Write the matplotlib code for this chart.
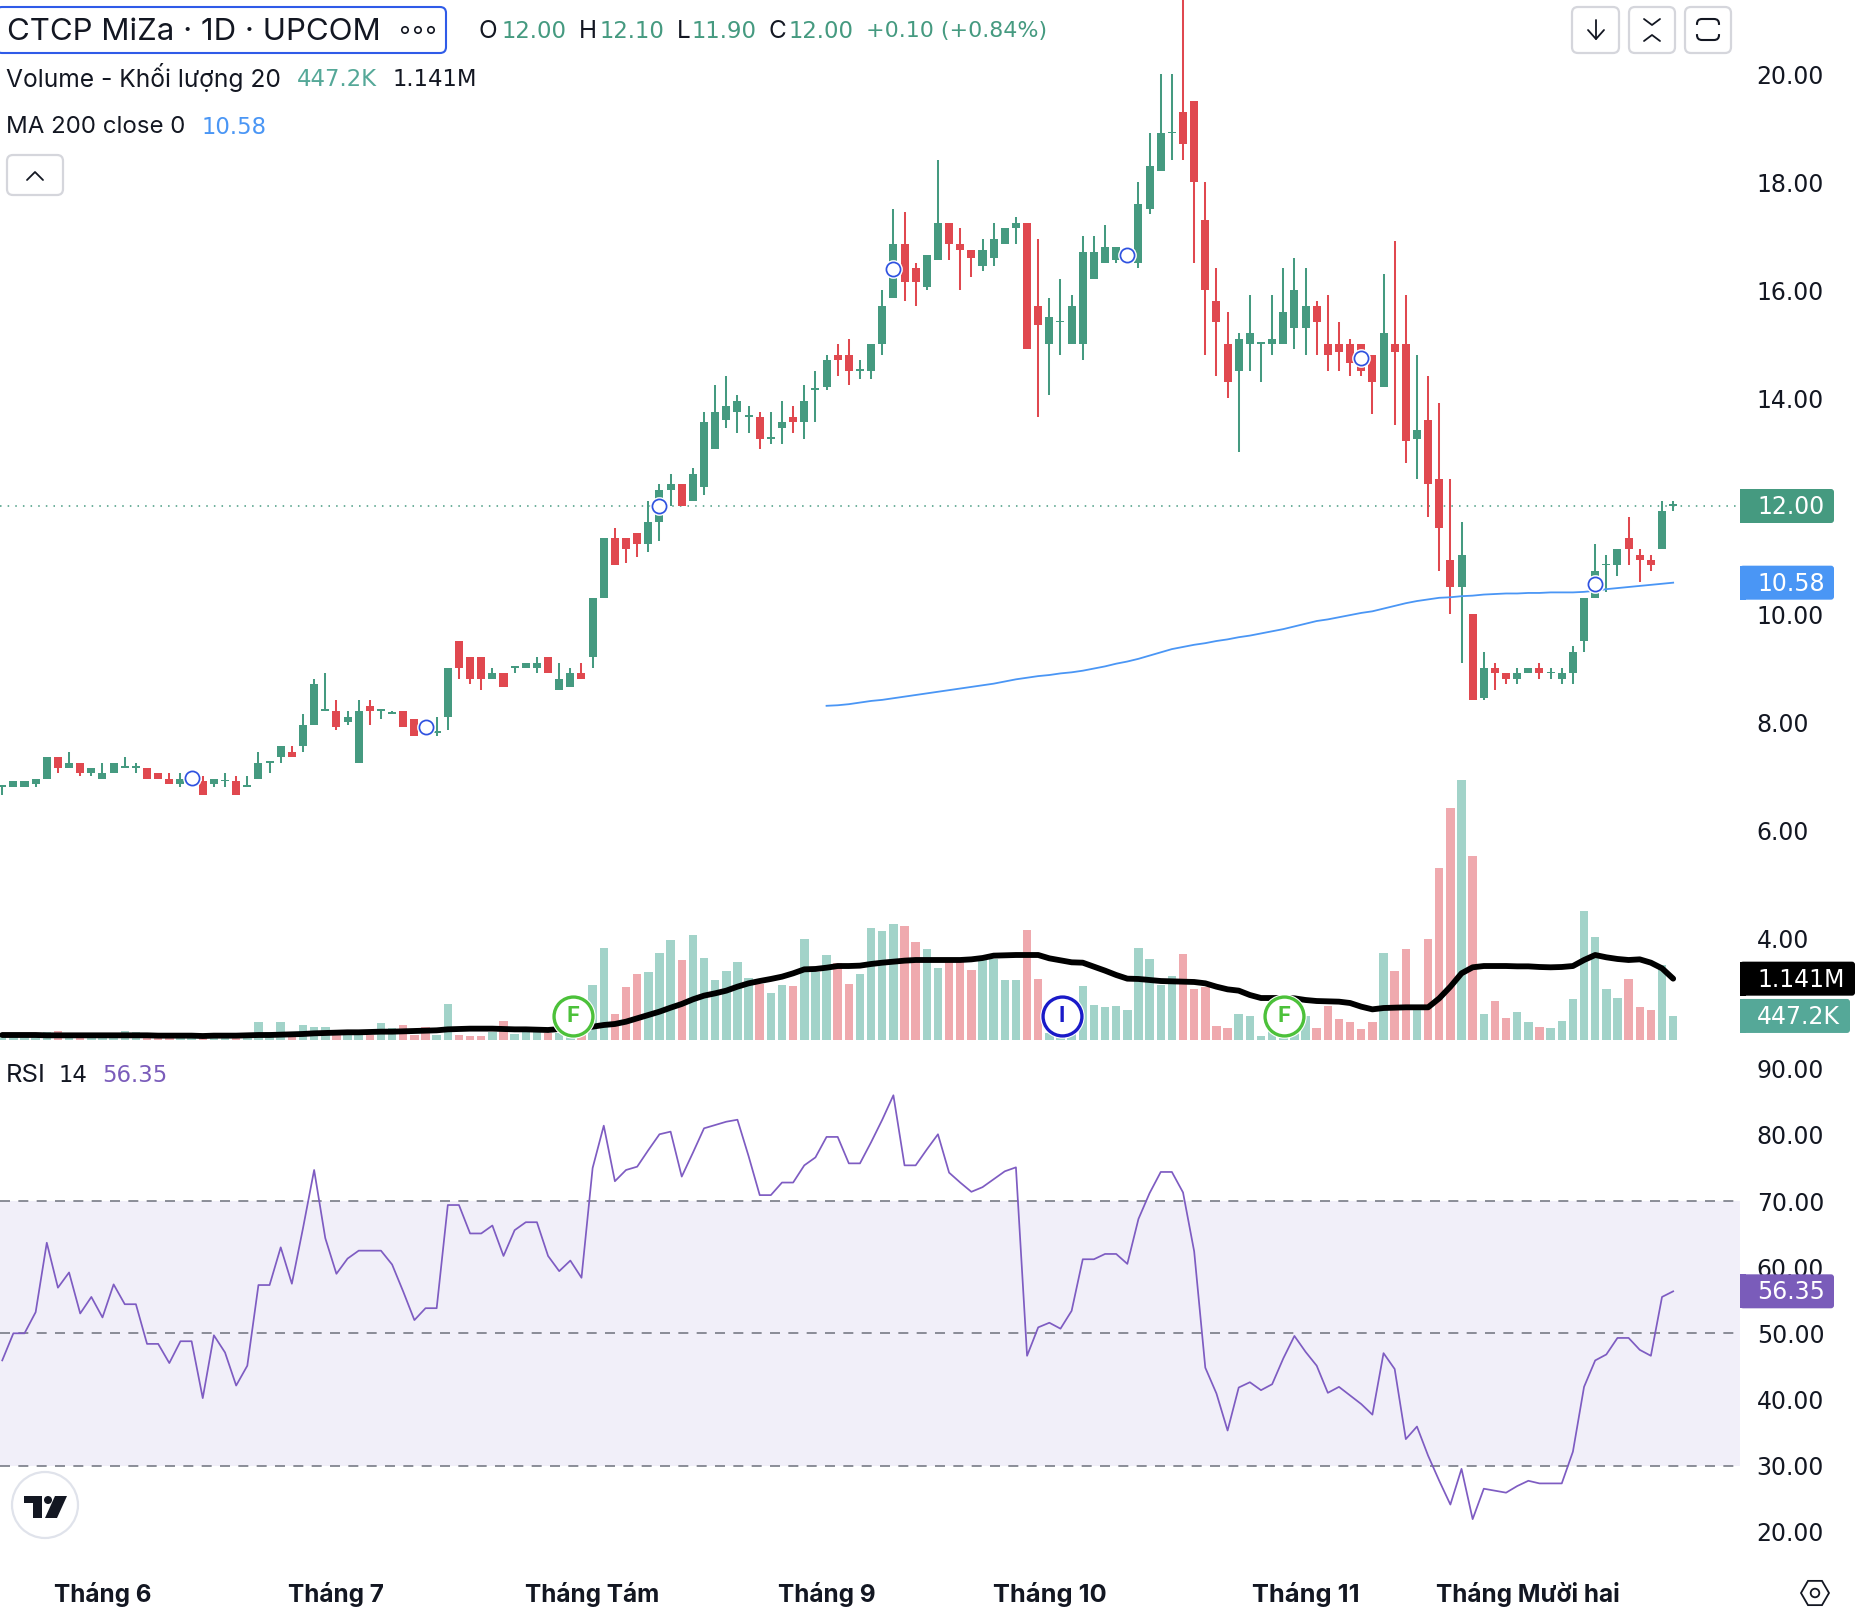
import matplotlib
matplotlib.use("Agg")
import matplotlib.pyplot as plt
from matplotlib.patches import FancyBboxPatch, Circle, Polygon, RegularPolygon

plt.rcParams['font.family'] = ['Inter', 'DejaVu Sans']

W, H = 1876, 1612

# candles
opens = [6.8, 6.8, 6.8, 6.85, 6.95, 7.35, 7.15, 7.25, 7.05, 6.95,
         7.05, 7.15, 7.15, 7.15, 7.05, 6.95, 6.85, 6.9, 6.9, 6.85,
         6.9, 6.9, 6.8, 6.95, 7.25, 7.35, 7.45, 7.55, 7.95, 8.2,
         8.2, 8.0, 7.25, 8.3, 8.2, 8.15, 8.2, 8.05, 8.0, 7.8,
         8.1, 9.5, 9.2, 9.2, 8.8, 8.9, 9.0, 9.0, 9.0, 9.2,
         8.6, 8.65, 8.9, 9.2, 10.3, 11.4, 11.4, 11.5, 11.3, 11.7,
         12.3, 12.4, 12.1, 12.35, 13.05, 13.6, 13.75, 13.65, 13.65, 13.25,
         13.45, 13.65, 13.55, 14.15, 14.2, 14.8, 14.8, 14.5, 14.5, 15.0,
         15.85, 16.85, 16.4, 16.05, 16.55, 17.25, 16.85, 16.75, 16.45, 16.6,
         16.85, 17.15, 17.25, 15.7, 15.0, 15.4, 15.0, 15.0, 16.2, 16.5,
         16.55, 16.6, 16.5, 17.5, 18.2, 18.9, 19.3, 19.5, 17.3, 15.8,
         15.0, 14.5, 15.0, 15.0, 15.0, 15.0, 15.3, 15.3, 15.7, 15.0,
         15.0, 15.0, 15.0, 14.8, 14.2, 15.0, 15.0, 13.25, 13.6, 12.5,
         11.0, 10.5, 10.0, 8.45, 9.0, 8.9, 8.8, 8.9, 9.0, 8.9,
         8.8, 8.9, 9.5, 10.3, 10.9, 10.9, 11.4, 11.1, 11.0, 11.2,
         12.0]
highs = [6.8, 6.9, 6.9, 6.95, 7.35, 7.35, 7.45, 7.25, 7.15, 7.25,
         7.25, 7.35, 7.25, 7.15, 7.05, 7.05, 7.05, 7.0, 7.0, 6.95,
         7.05, 7.0, 7.0, 7.45, 7.25, 7.55, 7.55, 8.15, 8.8, 8.9,
         8.4, 8.2, 8.4, 8.4, 8.2, 8.2, 8.2, 8.05, 8.0, 8.1,
         9.0, 9.5, 9.2, 9.2, 9.0, 8.9, 9.0, 9.1, 9.2, 9.2,
         9.1, 9.0, 9.1, 10.3, 11.4, 11.6, 11.4, 11.5, 12.1, 12.4,
         12.6, 12.4, 12.7, 13.75, 14.25, 14.4, 14.05, 13.85, 13.75, 13.75,
         13.95, 13.85, 14.25, 14.5, 14.8, 15.0, 15.1, 14.7, 15.0, 16.0,
         17.5, 17.45, 16.5, 16.65, 18.4, 17.25, 17.15, 16.75, 16.95, 17.25,
         17.15, 17.35, 17.25, 16.95, 15.85, 16.2, 15.9, 17.0, 17.0, 17.2,
         16.8, 16.7, 18.0, 18.9, 20.0, 20.0, 21.4, 19.5, 18.0, 16.4,
         15.6, 15.2, 15.9, 15.0, 15.9, 16.4, 16.6, 16.4, 15.8, 15.9,
         15.4, 15.1, 15.0, 14.8, 16.3, 16.9, 15.9, 14.8, 14.4, 13.9,
         12.5, 11.7, 10.0, 9.3, 9.1, 8.9, 9.0, 9.0, 9.1, 9.0,
         9.0, 9.4, 10.3, 11.3, 11.1, 11.2, 11.8, 11.2, 11.1, 12.1,
         12.1]
lows = [6.65, 6.8, 6.8, 6.8, 6.95, 7.05, 7.15, 7.0, 7.0, 6.95,
        7.05, 7.15, 7.05, 6.95, 6.95, 6.85, 6.8, 6.85, 6.65, 6.8,
        6.8, 6.65, 6.8, 6.95, 7.05, 7.25, 7.35, 7.45, 7.95, 8.2,
        7.85, 7.95, 7.25, 7.95, 8.05, 8.15, 7.9, 7.75, 7.85, 7.75,
        7.85, 8.8, 8.7, 8.6, 8.8, 8.65, 8.9, 9.0, 8.9, 8.9,
        8.6, 8.65, 8.8, 9.0, 10.3, 10.9, 10.95, 11.05, 11.15, 11.35,
        12.0, 12.0, 12.1, 12.2, 13.05, 13.45, 13.35, 13.35, 13.05, 13.15,
        13.15, 13.35, 13.25, 13.55, 14.15, 14.4, 14.25, 14.35, 14.35, 14.8,
        15.85, 15.8, 15.7, 16.0, 16.55, 16.55, 16.0, 16.25, 16.35, 16.45,
        16.85, 16.85, 14.9, 13.65, 14.05, 14.8, 15.0, 14.7, 16.2, 16.5,
        16.5, 16.6, 16.4, 17.4, 18.2, 18.4, 18.4, 16.5, 14.8, 14.4,
        14.0, 13.0, 14.5, 14.3, 14.8, 15.0, 14.9, 14.8, 14.8, 14.5,
        14.5, 14.4, 14.4, 13.7, 14.2, 13.5, 12.8, 12.5, 11.8, 10.8,
        10.0, 9.1, 8.4, 8.4, 8.6, 8.7, 8.7, 8.9, 8.8, 8.8,
        8.7, 8.7, 9.3, 10.3, 10.4, 10.7, 10.9, 10.6, 10.8, 11.2,
        11.9]
closes = [6.8, 6.9, 6.9, 6.95, 7.35, 7.15, 7.25, 7.05, 7.15, 7.05,
          7.25, 7.15, 7.15, 6.95, 6.95, 6.85, 6.95, 7.0, 6.65, 6.95,
          6.9, 6.65, 6.8, 7.25, 7.25, 7.55, 7.35, 7.95, 8.7, 8.2,
          7.9, 8.1, 8.2, 8.2, 8.2, 8.15, 7.9, 7.75, 7.9, 7.8,
          9.0, 9.0, 8.8, 8.8, 8.9, 8.65, 9.0, 9.1, 9.1, 8.9,
          8.8, 8.9, 8.8, 10.3, 11.4, 10.9, 11.2, 11.3, 11.7, 12.3,
          12.4, 12.0, 12.6, 13.55, 13.75, 13.85, 13.95, 13.65, 13.25, 13.25,
          13.55, 13.55, 13.95, 14.15, 14.7, 14.7, 14.5, 14.5, 15.0, 15.7,
          16.85, 16.15, 16.15, 16.65, 17.25, 16.85, 16.75, 16.6, 16.75, 16.95,
          17.15, 17.25, 14.9, 15.35, 15.5, 15.4, 15.7, 16.7, 16.7, 16.8,
          16.8, 16.7, 17.6, 18.3, 18.9, 18.9, 18.7, 18.0, 16.0, 15.4,
          14.3, 15.1, 15.2, 15.0, 15.1, 15.6, 16.0, 15.7, 15.4, 14.8,
          14.85, 14.65, 14.5, 14.3, 15.2, 14.85, 13.2, 13.4, 12.4, 11.6,
          10.5, 11.1, 8.4, 9.0, 8.9, 8.8, 8.9, 9.0, 8.9, 8.9,
          8.9, 9.3, 10.3, 10.8, 10.9, 11.2, 11.2, 11.0, 10.9, 11.9,
          12.0]

# volume in thousands of shares
volumes = [124, 124, 112, 136, 155, 167, 124, 93, 112, 93,
           112, 167, 155, 93, 112, 93, 124, 93, 74, 93,
           112, 93, 124, 335, 155, 335, 93, 279, 242, 242,
           93, 93, 155, 93, 316, 217, 279, 93, 242, 93,
           670, 93, 74, 74, 155, 353, 112, 155, 155, 124,
           124, 62, 124, 1023, 1711, 484, 986, 1228, 1265, 1618,
           1860, 1488, 1953, 1525, 1116, 1283, 1451, 1153, 1042, 874,
           1023, 1004, 1879, 1265, 1581, 1432, 1042, 1228, 2083, 2027,
           2158, 2120, 1823, 1693, 1339, 1451, 1469, 1302, 1488, 1507,
           1116, 1116, 2046, 1135, 124, 160, 124, 1004, 651, 614,
           632, 558, 1711, 1507, 1029, 1190, 1600, 949, 992, 260,
           223, 484, 446, 74, 186, 124, 186, 446, 223, 632,
           391, 335, 205, 335, 1618, 1283, 1693, 620, 1879, 3199,
           4315, 4836, 3422, 484, 725, 409, 521, 335, 242, 223,
           353, 763, 2399, 1916, 949, 781, 1135, 614, 558, 1395,
           447.2]
volume_ma = [93, 93, 93, 93, 87, 87, 87, 87, 87, 87,
             87, 87, 87, 87, 81, 81, 81, 81, 74, 81,
             81, 81, 87, 93, 93, 99, 105, 112, 124, 130,
             136, 143, 143, 149, 155, 155, 161, 167, 174, 180,
             198, 205, 211, 211, 211, 205, 198, 198, 192, 186,
             205, 217, 236, 248, 279, 298, 341, 403, 465, 527,
             601, 670, 756, 825, 868, 918, 992, 1054, 1097, 1135,
             1178, 1240, 1314, 1321, 1345, 1376, 1376, 1383, 1414, 1438,
             1457, 1476, 1488, 1488, 1488, 1488, 1488, 1500, 1525, 1569,
             1575, 1581, 1581, 1581, 1519, 1482, 1445, 1438, 1364, 1290,
             1209, 1141, 1135, 1116, 1097, 1091, 1085, 1079, 1054, 992,
             942, 918, 837, 781, 781, 781, 775, 744, 725, 719,
             713, 688, 620, 570, 595, 601, 608, 608, 608, 775,
             992, 1240, 1352, 1376, 1376, 1376, 1370, 1370, 1358, 1352,
             1358, 1376, 1488, 1581, 1538, 1507, 1488, 1500, 1438, 1333,
             1141]

ma_start = 74
ma200 = [8.30, 8.31, 8.33, 8.36, 8.39, 8.41, 8.44, 8.47, 8.50, 8.53,
         8.56, 8.59, 8.62, 8.65, 8.68, 8.71, 8.75, 8.79, 8.82, 8.85,
         8.87, 8.90, 8.92, 8.95, 8.99, 9.03, 9.08, 9.12, 9.17, 9.23,
         9.29, 9.35, 9.39, 9.43, 9.46, 9.50, 9.53, 9.57, 9.60, 9.64,
         9.68, 9.72, 9.77, 9.82, 9.87, 9.90, 9.94, 9.98, 10.02, 10.05,
         10.10, 10.15, 10.20, 10.24, 10.27, 10.30, 10.31, 10.33, 10.34, 10.36,
         10.37, 10.38, 10.38, 10.39, 10.39, 10.40, 10.40, 10.40, 10.41, 10.43,
         10.46, 10.48, 10.50, 10.52, 10.54, 10.56, 10.58]

rsi = [45.9, 50, 50, 53.2, 63.7, 56.9, 59.2, 53, 55.5, 52.4,
       57.4, 54.4, 54.4, 48.4, 48.4, 45.5, 48.8, 48.8, 40.2, 49.7,
       47.1, 42.1, 45.1, 57.3, 57.3, 63, 57.5, 65.9, 74.7, 64.4,
       59, 61.3, 62.5, 62.5, 62.5, 60.4, 56.3, 52, 53.8, 53.8,
       69.4, 69.4, 65.1, 65.1, 66.3, 61.7, 65.6, 66.8, 66.8, 61.7,
       59.4, 61, 58.4, 75, 81.4, 73, 74.7, 75.2, 77.7, 80.1,
       80.5, 73.7, 77.3, 81, 81.5, 82, 82.3, 76.8, 70.9, 70.9,
       72.8, 72.8, 75.4, 76.6, 79.7, 79.7, 75.7, 75.7, 78.9, 82.3,
       86, 75.4, 75.4, 77.8, 80.1, 74.3, 72.8, 71.4, 72.1, 73.3,
       74.5, 75.1, 46.6, 50.9, 51.6, 50.7, 53.4, 61.2, 61.2, 62,
       62, 60.5, 67.3, 71.2, 74.4, 74.4, 71.3, 62.4, 44.8, 40.9,
       35.3, 41.8, 42.6, 41.4, 42.3, 46.2, 49.6, 47.2, 45.1, 41,
       41.9, 40.6, 39.3, 37.7, 47, 44.6, 34, 35.9, 31.5, 27.7,
       24.1, 29.5, 21.9, 26.5, 26.2, 25.9, 26.9, 27.7, 27.3, 27.3,
       27.3, 32.1, 41.9, 45.9, 46.8, 49.3, 49.3, 47.5, 46.6, 55.5,
       56.35]

news_idx = [17, 38, 59, 80, 101, 122, 143]
news_price = [6.97, 7.9, 12.0, 16.38, 16.65, 14.74, 10.55]
flag_idx = [51.2, 95.1, 115.1]
flag_text = ["F", "I", "F"]
flag_color = ["#4cc13a", "#1a1ac8", "#4cc13a"]

month_idx = [9, 30, 53, 74, 94, 117, 137]
month_names = ["Tháng 6", "Tháng 7", "Tháng Tám", "Tháng 9", "Tháng 10", "Tháng 11", "Tháng Mười hai"]
price_ticks = [4, 6, 8, 10, 12, 14, 16, 18, 20]
rsi_ticks = [20, 30, 40, 50, 60, 70, 80, 90]

GREEN = "#459a80"
RED = "#e0484f"
VOL_GREEN = "#a2d3c9"
VOL_RED = "#efa9ae"
TEAL = "#55a898"
BLUE = "#4a96f5"
PURPLE = "#7a5cba"
INK = "#131722"
NUM_FONT = "DejaVu Sans"  # tabular digits, same widths as the chart's numbers
FS = 16.4
AXIS_FS = 17


def pane(top, bottom):
    return fig.add_axes([0, 1 - bottom / H, 1740 / W, (bottom - top) / H])


def clean(ax):
    ax.patch.set_alpha(0)
    for s in ax.spines.values():
        s.set_visible(False)
    ax.set_xlim(-0.2, 156.0)


fig = plt.figure(figsize=(W / 100, H / 100), dpi=100, facecolor="white")

# volume sits behind the price candles in the same pane
ax_vol = pane(0, 1040)
ax_vol.set_zorder(1)
clean(ax_vol)
ax_vol.set_ylim(0, 1040 * 18.6)
ax_vol.set_xticks([])
ax_vol.set_yticks([])
xs = list(range(len(closes)))
up = [c >= o for o, c in zip(opens, closes)]
ax_vol.bar(xs, volumes, width=0.76, color=[VOL_GREEN if u else VOL_RED for u in up], linewidth=0)
ax_vol.plot(xs, volume_ma, color="black", lw=4.2, solid_capstyle="round", solid_joinstyle="round")

ax = pane(0, 1040)
ax.set_zorder(2)
clean(ax)
ax.set_ylim(12 - (1040 - 506) / 54.0, 12 + 506 / 54.0)
ax.axhline(12, color=GREEN, lw=1.1, ls=(0, (1, 4)), zorder=1)
colors = [GREEN if u else RED for u in up]
ax.vlines(xs, lows, highs, colors=colors, lw=1.45, zorder=2)
bottoms = [min(o, c) for o, c in zip(opens, closes)]
heights = [max(abs(c - o), 0.035) for o, c in zip(opens, closes)]
ax.bar(xs, heights, bottom=bottoms, width=0.72, color=colors, linewidth=0, zorder=3)
ax.plot(range(ma_start, ma_start + len(ma200)), ma200, color=BLUE, lw=1.3, zorder=4)
ax.plot(news_idx, news_price, ls="none", marker="o", ms=13.5, mfc="white", mec="white", mew=0, zorder=5)
ax.plot(news_idx, news_price, ls="none", marker="o", ms=10.2, mfc="white", mec="#2f52e0", mew=1.25, zorder=6)
ax.set_xticks([])
ax.yaxis.tick_right()
ax.set_yticks(price_ticks)
ax.set_yticklabels(["%.2f" % t for t in price_ticks], fontsize=AXIS_FS, color=INK, family=NUM_FONT)
ax.tick_params(axis="y", length=0, pad=12)

# flags on the volume bars
for i, t, c in zip(flag_idx, flag_text, flag_color):
    ax_vol.plot([i], [447], marker="o", ms=32, mfc="white", mec="white", mew=0, zorder=6)
    ax_vol.plot([i], [447], marker="o", ms=28, mfc="white", mec=c, mew=2.4, zorder=7)
    ax_vol.text(i, 447, t, color=c, fontsize=16, fontweight="bold", ha="center", va="center", zorder=8)

ax_rsi = pane(1045, 1565)
ax_rsi.set_zorder(2)
clean(ax_rsi)
ax_rsi.set_ylim(30 - (1565 - 1465.6) / 6.61, 70 + (1201 - 1045) / 6.61)
ax_rsi.axhspan(30, 70, color="#f1eff9", lw=0, zorder=0)
for level in [30, 50, 70]:
    ax_rsi.axhline(level, color="#787b86", lw=1.2, ls=(0, (6, 5)), zorder=1)
ax_rsi.plot(xs, rsi, color="#7e5cc2", lw=1.25, zorder=2)
ax_rsi.yaxis.tick_right()
ax_rsi.set_yticks(rsi_ticks)
ax_rsi.set_yticklabels(["%.2f" % t for t in rsi_ticks], fontsize=AXIS_FS, color=INK, family=NUM_FONT)
ax_rsi.tick_params(axis="y", length=0, pad=12)
ax_rsi.set_xticks(month_idx)
ax_rsi.set_xticklabels(month_names, fontsize=17.5, fontweight="bold", color=INK)
ax_rsi.tick_params(axis="x", length=0, pad=12)
# the narrow 1 in Inter makes these two come out short
for tick in ax_rsi.get_xticklabels():
    if "1" in tick.get_text():
        tick.set_fontsize(18.3)

# overlay in pixels for the chart's furniture
ui = fig.add_axes([0, 0, 1, 1])
ui.set_zorder(5)
ui.axis("off")
ui.set_xlim(0, W)
ui.set_ylim(H, 0)


def value_y(axis, value):
    return H - axis.transData.transform((0, value))[1]


def label(x, y, s, color=INK, size=17.3, **kw):
    ui.text(x, y, s, color=color, fontsize=size, va="center", ha="left", **kw)


def number(x, y, s, color=INK, size=FS):
    label(x, y, s, color=color, size=size, family=NUM_FONT)


def box(x0, y0, x1, y1, edge, face="white", lw=1.5, r=6):
    ui.add_patch(FancyBboxPatch((x0 + r, y0 + r), x1 - x0 - 2 * r, y1 - y0 - 2 * r,
                                boxstyle="round,pad=%d,rounding_size=%d" % (r, r),
                                ec=edge, fc=face, lw=lw))


def badge(axis, value, s, color, x1, half):
    y = value_y(axis, value)
    box(1740, y - half, x1, y + half, color, color, lw=0, r=3)
    ui.add_patch(plt.Rectangle((1740, y - half), 6, 2 * half, color=color, lw=0))
    number(1757, y + 1, s, color="white", size=AXIS_FS)


def polyline(pts, color=INK, lw=1.3):
    ui.plot([p[0] for p in pts], [p[1] for p in pts], color=color, lw=lw,
            solid_capstyle="round", solid_joinstyle="round")


badge(ax, 12.0, "12.00", GREEN, 1834, 17)
badge(ax, 10.58, "10.58", BLUE, 1834, 17)
badge(ax_vol, 1141, "1.141M", "black", 1855, 17)
badge(ax_vol, 447.2, "447.2K", TEAL, 1850, 17)
badge(ax_rsi, 56.35, "56.35", PURPLE, 1834, 17)

# header
box(-4, 7, 446, 53, "#2f5be8")
label(7, 32, "CTCP MiZa · 1D · UPCOM", size=22.5)
for cx in [405, 418, 431]:
    ui.add_patch(Circle((cx, 30), 3.2, fc="white", ec=INK, lw=1.2))
header_letters = [(479, "O"), (579, "H"), (677, "L"), (768, "C")]
header_values = [(502, "12.00"), (600, "12.10"), (692, "11.90"), (789, "12.00")]
for x, s in header_letters:
    label(x, 31, s, size=17.5)
for x, s in header_values:
    number(x, 31, s, color=GREEN)
number(866, 31, "+0.10 (+0.84%)", color=GREEN, size=15.9)
label(6, 77, "Volume - Khối lượng 20", size=17.7)
number(297, 80, "447.2K", color=TEAL)
number(393, 80, "1.141M")
label(6, 127, "MA 200 close 0")
number(202, 128, "10.58", color=BLUE)
label(6, 1076, "RSI", size=18.5)
number(59, 1076, "14")
number(102, 1076, "56.35", color=PURPLE)

# buttons
box(7, 155, 63, 195, "#d5d6dc", lw=1.6)
polyline([(27, 180), (35, 172), (43, 180)])
for x0, x1 in [(1572, 1619), (1629, 1675), (1685, 1731)]:
    box(x0, 7, x1, 53, "#d5d6dc", lw=1.6)
polyline([(1596, 20), (1596, 39)])
polyline([(1588, 30), (1596, 39), (1604, 30)])
polyline([(1644, 19), (1652, 25), (1660, 19)])
polyline([(1644, 41), (1652, 35), (1660, 41)])
box(1697, 19, 1719, 40, INK, lw=1.5, r=5)
ui.plot([1697, 1697], [27, 32], color="white", lw=3)
ui.plot([1719, 1719], [27, 32], color="white", lw=3)

# logo and settings
ui.add_patch(Circle((45, 1505), 33, fc="white", ec="#e0e3eb", lw=1.6))
ui.add_patch(Polygon([(24, 1496), (42, 1496), (42, 1518), (33, 1518), (33, 1503), (24, 1503)], fc=INK, lw=0))
ui.add_patch(Circle((48, 1500), 4, fc=INK, lw=0))
ui.add_patch(Polygon([(55, 1496), (67, 1496), (57, 1518), (45, 1518)], fc=INK, lw=0))
ui.add_patch(RegularPolygon((1815, 1593), 6, radius=14, orientation=0.5236, fc="white", ec=INK, lw=1.3))
ui.add_patch(Circle((1815, 1593), 4.3, fc="white", ec=INK, lw=1.3))

fig.savefig("out.png", dpi=100)
